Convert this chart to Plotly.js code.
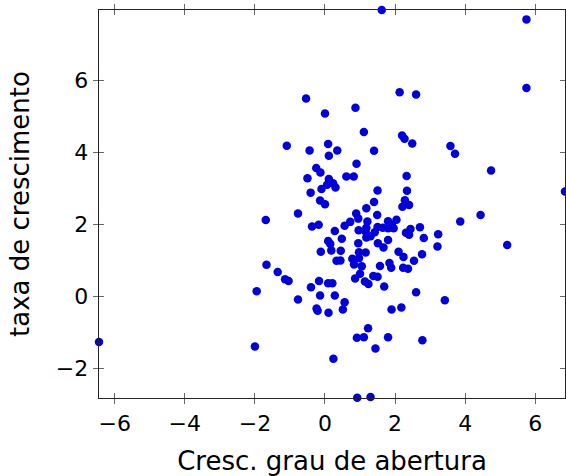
<!DOCTYPE html>
<html><head><meta charset="utf-8">
<script src="https://cdn.plot.ly/plotly-3.0.1.min.js"></script>
<style>html,body{margin:0;padding:0;background:#fff}</style>
</head><body><div id="chart" style="width:566px;height:476px"></div>
<script>
var xVals = [1.62,5.75,5.75,2.13,2.60,-0.54,0.87,0.00,1.11,2.20,2.27,2.49,0.09,-1.09,3.58,-0.44,0.35,1.40,3.71,0.11,
0.90,-0.25,-0.13,4.74,0.61,0.82,2.33,-0.50,0.11,0.06,0.23,0.30,-0.10,-0.41,1.50,2.34,6.85,-0.14,0.00,1.40,
2.28,2.21,2.40,1.18,-0.77,4.44,0.89,0.95,1.49,1.21,1.18,0.72,0.56,-0.37,-0.18,0.28,0.96,1.50,1.16,1.18,
1.30,1.42,3.86,0.09,0.15,0.48,0.95,1.51,-0.12,0.18,0.45,0.33,0.44,0.97,1.16,0.78,0.83,0.97,1.05,1.00,
0.86,1.38,1.50,1.14,1.24,1.57,-0.17,-0.40,0.09,0.21,-0.14,0.28,1.80,2.04,1.91,1.80,1.96,1.65,2.71,2.44,
2.31,2.40,3.23,2.82,3.21,1.67,1.80,2.10,2.24,2.77,2.54,1.84,1.89,2.23,2.37,1.69,2.60,-6.45,-2.00,-1.95,
-1.67,-1.35,-1.14,-1.04,-0.77,-0.24,-0.21,0.10,-1.69,0.56,0.51,1.90,2.18,1.23,0.91,1.11,1.80,2.78,1.44,0.24,
0.92,1.30,3.42,5.20];
var yVals = [7.94,7.68,5.78,5.66,5.60,5.49,5.23,5.07,4.56,4.46,4.37,4.24,4.23,4.18,4.17,4.05,4.05,4.04,3.96,3.90,
3.68,3.56,3.44,3.49,3.33,3.33,3.34,3.28,3.26,3.10,3.14,3.02,2.98,2.88,2.94,2.93,2.91,2.66,2.56,2.62,
2.67,2.49,2.54,2.45,2.30,2.26,2.30,2.16,2.26,2.08,1.91,2.07,1.96,1.94,1.99,1.82,1.84,1.93,1.80,1.64,
1.67,1.78,2.08,1.54,1.46,1.60,1.48,1.48,1.24,1.28,1.27,0.99,1.00,1.23,1.22,1.05,0.89,1.06,0.84,0.63,
0.50,0.57,0.55,0.42,0.35,0.85,0.43,0.26,0.37,0.37,0.03,0.03,2.09,2.13,1.99,1.89,1.89,1.91,1.92,1.87,
1.77,1.71,1.73,1.62,1.39,1.36,1.57,1.24,1.10,1.17,0.99,0.93,0.80,0.80,0.77,0.28,0.12,-1.26,-1.38,0.15,
0.88,0.68,0.48,0.43,-0.08,-0.33,-0.39,-0.45,2.12,-0.16,-0.36,-0.36,-0.30,-0.88,-1.14,-1.13,-1.13,-1.21,-1.44,-1.72,
-2.80,-2.78,-0.10,1.43];
var xTicks = [-6,-4,-2,0,2,4,6];
var yTicks = [-2,0,2,4,6];
var xLabel = 'Cresc. grau de abertura';
var yLabel = 'taxa de crescimento';
var xRange = [-6.45,6.85];
var yRange = [-2.81,7.94];

var fam = 'DejaVu Sans, sans-serif';
var tickFont = {family:fam, size:22, color:'#000'};
var titleFont = {family:fam, size:26, color:'#000'};
var trace = {x:xVals, y:yVals, type:'scatter', mode:'markers',
  marker:{color:'#0000dd', size:8.5, line:{width:0}}, cliponaxis:false, hoverinfo:'none'};
var ghost = {x:[xRange[0]], y:[yRange[0]], xaxis:'x2', yaxis:'y2', type:'scatter', mode:'markers',
  marker:{opacity:0}, hoverinfo:'none', showlegend:false};
var minus = function(v){return v<0 ? '\u2212'+Math.abs(v) : String(v);};
var layout = {
  width:566, height:476, showlegend:false,
  margin:{l:99, r:1, t:10, b:78},
  paper_bgcolor:'#fff', plot_bgcolor:'#fff',
  font:tickFont,
  xaxis:{range:xRange, tickvals:xTicks, ticktext:xTicks.map(minus), ticks:'outside', ticklen:5, tickwidth:1, tickcolor:'#666',
    showline:true, linecolor:'#222', linewidth:1.3, mirror:'allticks', showgrid:false, zeroline:false,
    tickfont:tickFont, title:{text:xLabel, font:titleFont, standoff:17}},
  yaxis:{range:yRange, tickvals:yTicks, ticktext:yTicks.map(minus), ticks:'outside', ticklen:5, tickwidth:1, tickcolor:'#666',
    showline:true, linecolor:'#222', linewidth:1.3, mirror:'allticks', showgrid:false, zeroline:false,
    tickfont:tickFont, title:{text:yLabel, font:titleFont, standoff:18}},
  xaxis2:{overlaying:'x', range:xRange, tickvals:xTicks, showticklabels:false, ticks:'inside', ticklen:5, tickwidth:1, tickcolor:'#666',
    mirror:'allticks', showline:false, showgrid:false, zeroline:false, anchor:'y2'},
  yaxis2:{overlaying:'y', range:yRange, tickvals:yTicks, showticklabels:false, ticks:'inside', ticklen:5, tickwidth:1, tickcolor:'#666',
    mirror:'allticks', showline:false, showgrid:false, zeroline:false, anchor:'x2'}
};
Plotly.newPlot('chart', [ghost, trace], layout, {staticPlot:true, displayModeBar:false});
</script></body></html>
